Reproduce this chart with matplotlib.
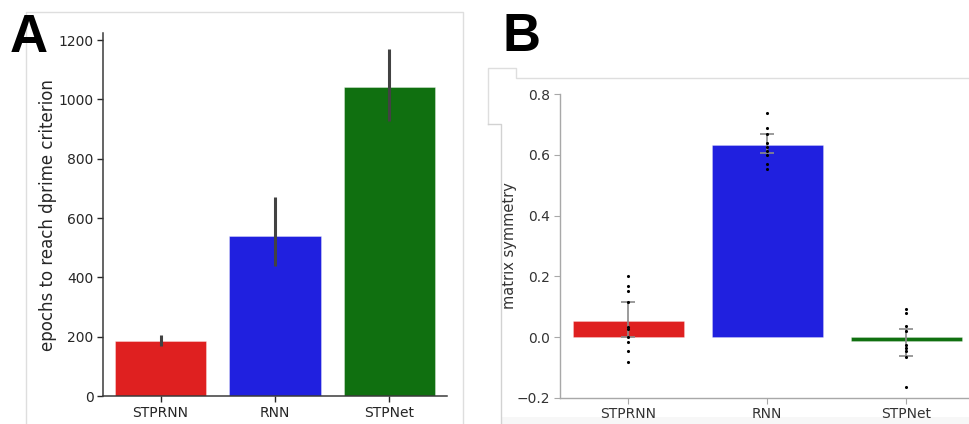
import numpy as np
import matplotlib.pyplot as plt
from matplotlib.lines import Line2D
from matplotlib.patches import Rectangle

models = ['STPRNN', 'RNN', 'STPNet']
bar_colors = ['#df2020', '#2020df', '#107010']

# A: epochs needed to reach the d' criterion (mean with CI)
epochs_mean = [186, 541, 1043]
epochs_lo = [169, 437, 926]
epochs_hi = [205, 672, 1170]

# B: symmetry of the recurrent weight matrix (mean, CI, individual networks)
sym_mean = [0.053, 0.634, -0.012]
sym_lo = [-0.001, 0.605, -0.064]
sym_hi = [0.116, 0.670, 0.026]
sym_stprnn = [0.202, 0.168, 0.152, 0.116, 0.034, 0.026, -0.001, -0.015, -0.046, -0.083]
sym_rnn = [0.737, 0.690, 0.668, 0.638, 0.627, 0.614, 0.600, 0.570, 0.554]
sym_stpnet = [0.091, 0.080, 0.036, 0.021, -0.026, -0.037, -0.045, -0.065, -0.164]
sym_points = [sym_stprnn, sym_rnn, sym_stpnet]

W, H = 969, 424
fig = plt.figure(figsize=(W / 100, H / 100), dpi=100)


def box(x0, y0, x1, y1):
    # pixel box (top-left origin) -> figure fraction rect
    return [x0 / W, 1 - y1 / H, (x1 - x0) / W, (y1 - y0) / H]


def pline(xs, ys, color='#dedede', lw=1.0):
    fig.add_artist(Line2D([x / W for x in xs], [1 - y / H for y in ys],
                          transform=fig.transFigure, color=color, lw=lw))


# light panel frames
pline([26, 26, 463, 463], [424, 12, 12, 424])
fig.add_artist(Rectangle((501 / W, 0), 1 - 501 / W, 7 / H, transform=fig.transFigure,
                         color='#f7f7f7', lw=0, zorder=0))
pline([488, 488, 516, 516, 969], [124, 68, 68, 78, 78])
pline([488, 501, 501], [124, 124, 424], color='#d2d2d2')

x = np.arange(len(models))

# ---- panel A ----
axA = fig.add_axes(box(103.3, 33.3, 446.7, 396))
axA.bar(x, epochs_mean, width=0.8, color=bar_colors,
        edgecolor=(1, 1, 1, 0.4), linewidth=0.6)
for i in range(len(models)):
    axA.plot([x[i], x[i]], [epochs_lo[i], epochs_hi[i]], color='#424242',
             lw=2.2, solid_capstyle='butt')
axA.set_xlim(-0.5, 2.5)
axA.set_ylim(0, 1223)
axA.set_yticks([0, 200, 400, 600, 800, 1000, 1200])
axA.set_xticks(x)
axA.set_xticklabels(models)
axA.set_ylabel('epochs to reach dprime criterion', fontsize=12, color='#262626')
axA.yaxis.set_label_coords(-0.135, 0.5)
axA.tick_params(labelsize=10, colors='#262626', width=1.0, length=4, pad=3)
for s in ['top', 'right']:
    axA.spines[s].set_visible(False)
for s in ['left', 'bottom']:
    axA.spines[s].set_color('#3a3a3a')
    axA.spines[s].set_linewidth(1.1)

# ---- panel B ----
axB = fig.add_axes(box(560, 94.3, 969, 397.7))
axB.bar(x, sym_mean, width=0.8, color=bar_colors,
        edgecolor=(1, 1, 1, 0.35), linewidth=0.5)
axB.errorbar(x, sym_mean,
             yerr=[np.subtract(sym_mean, sym_lo), np.subtract(sym_hi, sym_mean)],
             fmt='none', ecolor='#8a8a8a', elinewidth=1.2, capsize=5, capthick=1.2)
for i, pts in enumerate(sym_points):
    axB.scatter(np.full(len(pts), x[i]), pts, s=5, color='black', zorder=4, lw=0)
axB.set_xlim(-0.49, 2.45)
axB.set_ylim(-0.2, 0.8)
axB.set_yticks([-0.2, 0.0, 0.2, 0.4, 0.6, 0.8])
axB.set_xticks(x)
axB.set_xticklabels(models)
axB.set_ylabel('matrix symmetry', fontsize=10.5, color='#333333')
axB.yaxis.set_label_coords(-0.105, 0.5)
axB.tick_params(labelsize=10, colors='#333333', width=0.8, length=4, pad=3)
axB.tick_params(axis='both', color='#a8a8a8')
for s in ['top', 'right']:
    axB.spines[s].set_visible(False)
for s in ['left', 'bottom']:
    axB.spines[s].set_color('#a8a8a8')
    axB.spines[s].set_linewidth(1.0)

# panel letters
fig.text(10 / W, 1 - 52 / H, 'A', fontsize=38, fontweight='bold',
         family='Liberation Sans', color='black')
fig.text(502 / W, 1 - 51 / H, 'B', fontsize=38, fontweight='bold',
         family='Liberation Sans', color='black')

fig.savefig('out.png', dpi=100)
